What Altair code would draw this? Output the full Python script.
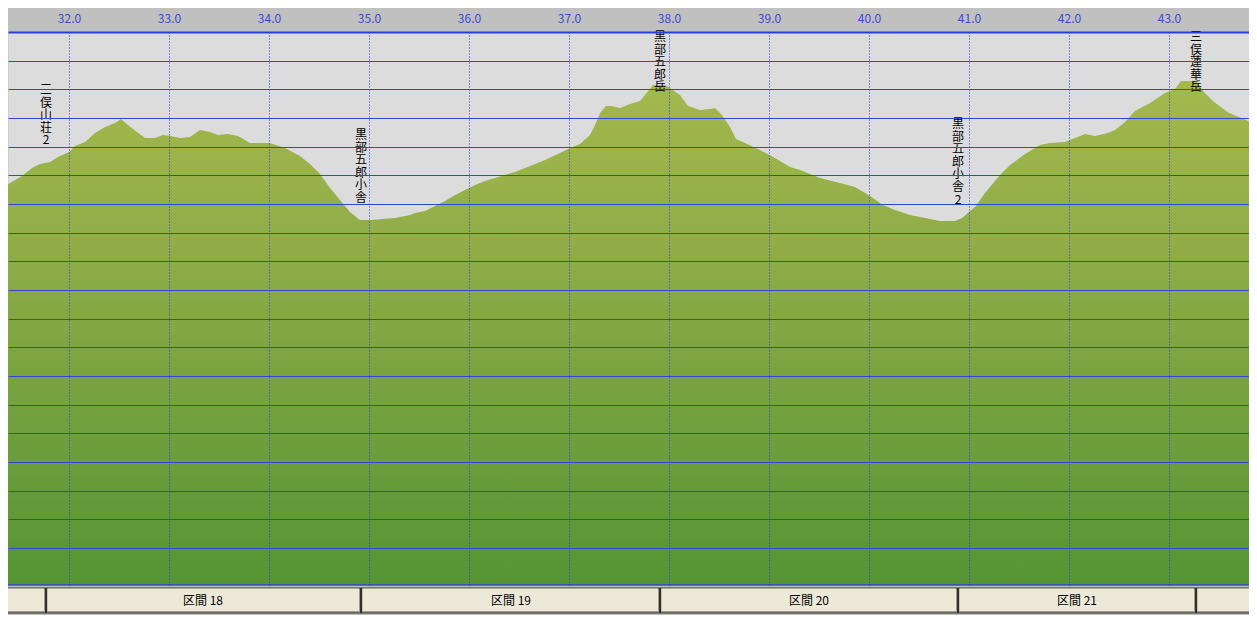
import altair as alt
import pandas as pd

# ---- data ----
KM = [31.31, 31.41, 31.53, 31.63, 31.71, 31.81, 31.89, 32.00, 32.06, 32.16,
      32.26, 32.36, 32.46, 32.52, 32.59, 32.68, 32.76, 32.86, 32.94, 33.01,
      33.11, 33.21, 33.31, 33.41, 33.49, 33.59, 33.69, 33.81, 34.01, 34.16,
      34.31, 34.41, 34.51, 34.61, 34.71, 34.81, 34.91, 35.03, 35.13, 35.26,
      35.41, 35.46, 35.56, 35.66, 35.76, 35.86, 35.96, 36.06, 36.16, 36.26,
      36.36, 36.46, 36.61, 36.76, 36.91, 37.01, 37.11, 37.21, 37.27, 37.31,
      37.37, 37.43, 37.51, 37.61, 37.71, 37.81, 37.84, 37.96, 38.01, 38.11,
      38.19, 38.31, 38.41, 38.46, 38.53, 38.61, 38.67, 38.76, 38.91, 39.06,
      39.21, 39.31, 39.41, 39.51, 39.71, 39.86, 40.01, 40.14, 40.26, 40.41,
      40.56, 40.71, 40.86, 40.93, 41.06, 41.16, 41.31, 41.41, 41.56, 41.71,
      41.81, 41.96, 42.06, 42.16, 42.26, 42.39, 42.46, 42.56, 42.66, 42.81,
      42.96, 43.06, 43.12, 43.27, 43.35, 43.45, 43.60, 43.75, 43.87]
ELEV = [2445, 2473, 2498, 2526, 2540, 2547, 2564, 2581, 2602, 2616,
        2648, 2669, 2683, 2697, 2676, 2651, 2630, 2630, 2641, 2637,
        2630, 2634, 2658, 2651, 2641, 2644, 2637, 2613, 2613, 2595,
        2567, 2540, 2505, 2456, 2414, 2372, 2344, 2344, 2346, 2352,
        2362, 2369, 2376, 2393, 2411, 2431, 2449, 2466, 2480, 2491,
        2501, 2513, 2534, 2553, 2578, 2595, 2609, 2641, 2683, 2717,
        2742, 2742, 2735, 2749, 2760, 2801, 2815, 2815, 2805, 2780,
        2742, 2728, 2731, 2735, 2710, 2670, 2627, 2614, 2588, 2562,
        2530, 2519, 2505, 2491, 2474, 2459, 2428, 2396, 2379, 2362,
        2351, 2341, 2341, 2351, 2391, 2438, 2501, 2536, 2574, 2606,
        2614, 2617, 2630, 2644, 2637, 2649, 2658, 2687, 2725, 2753,
        2788, 2801, 2829, 2829, 2792, 2757, 2717, 2697, 2676]

WP_NAMES = ["三俣山荘2", "黒部五郎小舎", "黒部五郎岳", "黒部五郎小舎2", "三俣蓮華岳"]
WP_KM = [31.77, 34.92, 37.91, 40.89, 43.27]
WP_ELEV = [2545, 2344, 2815, 2341, 2829]

SECTION_LABELS = ["", "区間 18", "区間 19", "区間 20", "区間 21", ""]
TICK_VALUES = [32, 33, 34, 35, 36, 37, 38, 39, 40, 41, 42, 43]
GRID_ELEV = list(range(1200, 3000, 100))

# ---- scales / layout ----
W, H = 1241, 553
X_MIN = 31.39
X_MAX = X_MIN + W / 100.0
Y_MIN, Y_MAX = 1071, 3000
M_PER_PX = (Y_MAX - Y_MIN) / H
FONT = "Noto Sans CJK JP"
BLUE = "#2f47d6"

terrain = pd.DataFrame({"km": KM, "elev": ELEV})

wp = pd.DataFrame({"name": WP_NAMES, "km": WP_KM, "elev": WP_ELEV})
wp["label"] = wp["name"].apply(lambda s: "\n".join(list(s)))
wp["n"] = wp["name"].str.len()
wp["label_top"] = [min(e + (14 + n * 12.6) * M_PER_PX, Y_MAX)
                   for e, n in zip(wp["elev"], wp["n"])]

bounds = [X_MIN - 0.2] + WP_KM + [X_MAX + 0.2]
sec = pd.DataFrame({
    "start": bounds[:-1],
    "end": bounds[1:],
    "label": SECTION_LABELS,
})
sec["mid"] = (sec["start"] + sec["end"]) / 2

xscale = alt.Scale(domain=[X_MIN, X_MAX], nice=False, zero=False, round=True)
yscale = alt.Scale(domain=[Y_MIN, Y_MAX], nice=False, zero=False, round=True)

gradient = alt.Gradient(
    gradient="linear",
    stops=[alt.GradientStop(color="#a4b84d", offset=0),
           alt.GradientStop(color="#8fac47", offset=0.35),
           alt.GradientStop(color="#559434", offset=1)],
    x1=1, x2=1, y1=0, y2=1,
)

area = alt.Chart(terrain).mark_area(color=gradient, clip=True, interpolate="linear").encode(
    x=alt.X("km:Q", scale=xscale,
            axis=alt.Axis(orient="top", values=TICK_VALUES, tickCount=40, format=".1f",
                          title=None, ticks=False, tickSize=0, labelPadding=14,
                          labelBaseline="middle", labelColor="#3a4bd0", labelFont=FONT,
                          labelFontSize=12,
                          domain=True, domainColor="#2a40d8", domainWidth=2,
                          grid=True, gridColor="#2436e0", gridDash=[1, 2], gridWidth=1,
                          gridOpacity=1, zindex=1)),
    y=alt.Y("elev:Q", scale=yscale,
            axis=alt.Axis(values=GRID_ELEV, tickCount=60, labels=False, ticks=False,
                          domain=False, title=None, grid=True, gridColor=BLUE,
                          gridWidth=1, gridOpacity=1, zindex=1)),
    y2=alt.datum(Y_MIN),
)

bottom_line = alt.Chart(pd.DataFrame({"v": [Y_MIN]})).mark_rule(
    color=BLUE, strokeWidth=1.5).encode(y=alt.Y("v:Q", scale=yscale))

labels = alt.Chart(wp).mark_text(
    baseline="top", align="center", lineBreak="\n", lineHeight=12.6,
    font=FONT, fontSize=12, color="black",
).encode(
    x=alt.X("km:Q", scale=xscale),
    y=alt.Y("label_top:Q", scale=yscale),
    text="label:N",
)

band = alt.Chart(pd.DataFrame({"a": [X_MIN - 1], "b": [X_MAX + 1]})).mark_rect(
    color="#303030").encode(
    x=alt.X("a:Q", scale=xscale), x2="b:Q",
    y=alt.value(H + 2.5), y2=alt.value(H + 28.5),
)

btn_shadow = alt.Chart(sec).mark_rect(color="#a09c90", xOffset=1, x2Offset=-1).encode(
    x=alt.X("start:Q", scale=xscale), x2="end:Q",
    y=alt.value(H + 3.5), y2=alt.value(H + 27.5),
)
btn = alt.Chart(sec).mark_rect(color="#ece9d8", xOffset=1.5, x2Offset=-2).encode(
    x=alt.X("start:Q", scale=xscale), x2="end:Q",
    y=alt.value(H + 3.5), y2=alt.value(H + 26),
)
btn_text = alt.Chart(sec).mark_text(
    font=FONT, fontSize=12, color="black", baseline="middle", align="center").encode(
    x=alt.X("mid:Q", scale=xscale),
    y=alt.value(H + 16),
    text="label:N",
)

chart = alt.layer(area, bottom_line, labels, band, btn_shadow, btn, btn_text).properties(
    width=W, height=H,
    autosize=alt.AutoSizeParams(type="none"),
    padding={"left": 0, "top": 24, "right": 0, "bottom": 30},
    background="#c0c0c0",
).configure_view(fill="#dcdcdc", stroke="transparent")

chart.save("out.html", embed_options={"renderer": "svg", "actions": False})
